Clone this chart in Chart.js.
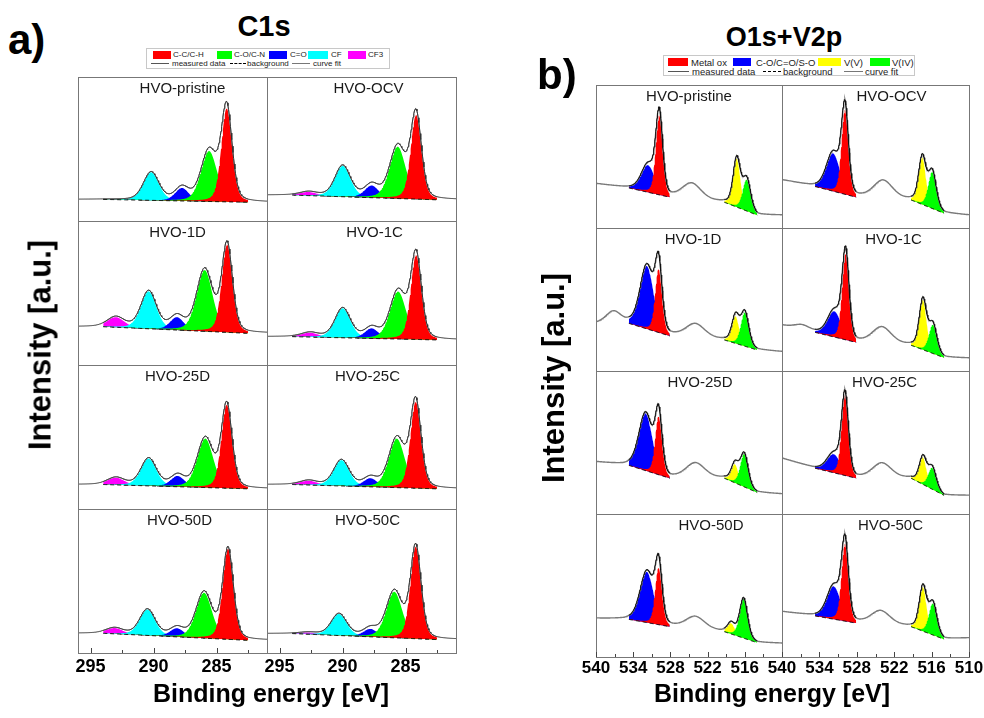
<!DOCTYPE html>
<html>
<head>
<meta charset="utf-8">
<script src="https://cdn.jsdelivr.net/npm/chart.js@4.4.1/dist/chart.umd.min.js"></script>
<style>
  body { margin: 0; background: #fff; }
  #fig { position: relative; width: 984px; height: 718px; overflow: hidden;
         font-family: 'Liberation Sans', Arial, sans-serif; color: #000; }
  #fig canvas { position: absolute; }
  .txt { position: absolute; white-space: nowrap; line-height: 1; }
  .bold { font-weight: bold; }
  .legend { position: absolute; border: 1px solid #c8c8c8; background: #fff; box-sizing: border-box; }
  .legend span { position: absolute; white-space: nowrap; line-height: 1; }
</style>
</head>
<body>
<div id="fig"></div>
<script>
// ---- sample names (reading order: left column, right column, row by row) ----
const samples = ['HVO-pristine', 'HVO-OCV', 'HVO-1D', 'HVO-1C', 'HVO-25D', 'HVO-25C', 'HVO-50D', 'HVO-50C'];

// ---- C1s fit: components listed from high to low binding energy ----
const c1sNames = ['CF3', 'CF', 'C=O', 'C-O/C-N', 'C-C/C-H'];
const c1sColors = ['#ff00ff', '#00ffff', '#0000ff', '#00ff00', '#ff0000'];
const c1sFwhm = [1.6, 1.45, 1.3, 1.5, 1.0];
const c1sCenters = [
  [292.8, 290.2, 287.75, 285.6, 284.2],
  [292.7, 290.0, 287.7, 285.63, 284.17],
  [293.0, 290.4, 288.15, 285.95, 284.17],
  [292.6, 290.0, 287.7, 285.6, 284.17],
  [293.0, 290.4, 288.1, 285.9, 284.2],
  [292.7, 290.1, 287.8, 285.7, 284.2],
  [293.1, 290.5, 288.15, 286.0, 284.1],
  [292.7, 290.3, 287.8, 285.9, 284.2]
];
const c1sHeights = [
  [0.0, 0.195, 0.09, 0.35, 0.65],
  [0.025, 0.215, 0.085, 0.36, 0.585],
  [0.07, 0.26, 0.09, 0.425, 0.61],
  [0.03, 0.205, 0.07, 0.33, 0.585],
  [0.05, 0.19, 0.075, 0.34, 0.58],
  [0.03, 0.18, 0.06, 0.34, 0.6],
  [0.04, 0.18, 0.06, 0.315, 0.63],
  [0.012, 0.15, 0.055, 0.32, 0.64]
];
const c1sBgLeft = [0.15, 0.18, 0.266, 0.197, 0.17, 0.17, 0.137, 0.135];
const c1sBgRight = [0.13, 0.147, 0.22, 0.174, 0.14, 0.14, 0.088, 0.093];
const c1sFit = [294.0, 282.5];
const c1sRange = [296, 281];
const c1sTicks = [295, 290, 285];
const c1sMinor = [292.5, 287.5, 282.5];

// ---- O1s + V2p fit ----
const o1sNames = ['C-O/C=O/S-O', 'Metal ox', 'V(V)', 'V(IV)'];
const o1sColors = ['#0000ff', '#ff0000', '#ffff00', '#00ff00'];
const o1sFwhm = [2.6, 1.3, 1.4, 1.5];
const o1sWindowOf = [0, 0, 1, 1];
const o1sWindows = [[534.7, 528.1], [519.3, 514.0]];
const o1sCenters = [
  [531.6, 529.8, 517.3, 515.7],
  [531.8, 529.9, 517.5, 515.9],
  [531.8, 529.9, 517.5, 516.0],
  [531.6, 529.8, 517.4, 515.8],
  [532.0, 529.9, 517.6, 516.1],
  [531.7, 529.9, 517.4, 515.9],
  [531.8, 529.9, 518.2, 516.2],
  [531.7, 529.9, 517.4, 515.8]
];
const o1sHeights = [
  [0.19, 0.555, 0.34, 0.22],
  [0.265, 0.59, 0.33, 0.255],
  [0.44, 0.445, 0.19, 0.235],
  [0.18, 0.6, 0.35, 0.2],
  [0.40, 0.41, 0.13, 0.23],
  [0.13, 0.56, 0.19, 0.15],
  [0.355, 0.4, 0.075, 0.28],
  [0.23, 0.54, 0.31, 0.22]
];
// background knots of the measured spectra
const o1sBaseE = [540, 534.7, 528.1, 519.3, 514.0, 510];
const o1sBase = [
  [0.31, 0.28, 0.215, 0.18, 0.09, 0.09],
  [0.336, 0.29, 0.215, 0.196, 0.103, 0.09],
  [0.333, 0.333, 0.245, 0.217, 0.147, 0.135],
  [0.32, 0.27, 0.2, 0.18, 0.093, 0.09],
  [0.364, 0.34, 0.25, 0.25, 0.15, 0.14],
  [0.39, 0.32, 0.25, 0.25, 0.13, 0.13],
  [0.27, 0.263, 0.212, 0.177, 0.1, 0.096],
  [0.317, 0.287, 0.237, 0.212, 0.124, 0.133]
];
// unfitted bands in the measured spectra: [centre, height, fwhm]
const o1sSatellite = [
  [524.6, 0.11, 3.6], [523.8, 0.125, 3.6], [524.0, 0.095, 3.6], [524.0, 0.115, 3.6],
  [524.0, 0.105, 3.6], [524.0, 0.105, 3.6], [524.0, 0.085, 3.6], [524.2, 0.095, 3.6]
];
const o1sShoulder = [
  [537.0, 0.0, 2.5], [537.0, 0.0, 2.5], [537.2, 0.08, 2.8], [536.8, 0.03, 2.8],
  [537.0, 0.0, 2.5], [537.0, 0.0, 2.5], [537.0, 0.0, 2.5], [537.0, 0.0, 2.5]
];
const o1sRange = [540, 510];
const o1sTicks = [540, 534, 528, 522, 516, 510];
const o1sMinor = [537, 531, 525, 519, 513];

// horizontal nudges of the sample names inside each cell
const c1sTitleShift = [10, 7, 5, 13, 5, 6, 7, 6];
const o1sTitleShift = [0, 16, 4, 18, 11, 9, 22, 15];

const FONT = "'Liberation Sans', Arial, sans-serif";
Chart.defaults.animation = false;
Chart.defaults.font.family = FONT;
Chart.defaults.plugins.legend.display = false;
Chart.defaults.plugins.tooltip.enabled = false;
Chart.defaults.elements.point.radius = 0;
Chart.defaults.elements.line.tension = 0;

// Gaussian-Lorentzian line shape (30 % Lorentzian)
function gl(e, c, h, w) {
  const t = (e - c) / w;
  return h * (0.7 * Math.exp(-4 * Math.LN2 * t * t) + 0.3 / (1 + 4 * t * t));
}
function knot(e, xs, ys) {
  for (let i = 0; i < xs.length - 1; i++) {
    if (e <= xs[i] && e >= xs[i + 1]) {
      const f = (xs[i] - e) / (xs[i] - xs[i + 1]);
      return ys[i] + f * (ys[i + 1] - ys[i]);
    }
  }
  return e > xs[0] ? ys[0] : ys[ys.length - 1];
}
function energies(from, to, step) {
  const out = [];
  for (let e = from; e >= to - 1e-9; e -= step) out.push(+e.toFixed(3));
  return out;
}

function c1sCell(s, yId, ds) {
  const bgE = [c1sRange[0], c1sFit[0], c1sFit[1], c1sRange[1]];
  const bgV = [c1sBgLeft[s], c1sBgLeft[s], c1sBgRight[s], c1sBgRight[s]];
  const bg = e => knot(e, bgE, bgV);
  const peak = (k, e) => gl(e, c1sCenters[s][k], c1sHeights[s][k], c1sFwhm[k]);
  const fit = e => bg(e) + c1sNames.reduce((a, _, k) => a + peak(k, e), 0);
  const win = energies(c1sFit[0], c1sFit[1], 0.05);
  const all = energies(c1sRange[0], c1sRange[1], 0.05);
  const bgIdx = ds.length;
  ds.push({ yAxisID: yId, data: win.map(e => ({ x: e, y: bg(e) })), borderColor: '#000',
            borderWidth: 1, borderDash: [4, 3], fill: false, order: 1 });
  c1sNames.forEach((n, k) => ds.push({
    yAxisID: yId, label: n, data: win.map(e => ({ x: e, y: bg(e) + peak(k, e) })),
    borderColor: 'transparent', backgroundColor: c1sColors[k], fill: { target: bgIdx }, order: 10 - k
  }));
  ds.push({ yAxisID: yId, data: win.map(e => ({ x: e, y: fit(e) })), borderColor: '#8c8c8c', borderWidth: 1, fill: false, order: 3 });
  ds.push({ yAxisID: yId, data: all.map(e => ({ x: e, y: fit(e) })), borderColor: '#333', borderWidth: 1, fill: false, order: 2 });
}

function o1sCell(s, yId, ds) {
  const bg = e => knot(e, o1sBaseE, o1sBase[s]);
  const peak = (k, e) => gl(e, o1sCenters[s][k], o1sHeights[s][k], o1sFwhm[k]);
  const band = (b, e) => gl(e, b[0], b[1], b[2]);
  const fit = e => bg(e) + o1sNames.reduce((a, _, k) => a + peak(k, e), 0);
  const measured = e => fit(e) + band(o1sSatellite[s], e) + band(o1sShoulder[s], e);
  const all = energies(o1sRange[0], o1sRange[1], 0.1);
  o1sWindows.forEach((w, wi) => {
    const win = energies(w[0], w[1], 0.05);
    const bgIdx = ds.length;
    ds.push({ yAxisID: yId, data: win.map(e => ({ x: e, y: bg(e) })), borderColor: '#000',
              borderWidth: 1, borderDash: [4, 3], fill: false, order: 1 });
    o1sNames.forEach((n, k) => {
      if (o1sWindowOf[k] !== wi) return;
      ds.push({ yAxisID: yId, label: n, data: win.map(e => ({ x: e, y: bg(e) + peak(k, e) })),
                borderColor: 'transparent', backgroundColor: o1sColors[k], fill: { target: bgIdx }, order: 10 - k });
    });
    ds.push({ yAxisID: yId, data: win.map(e => ({ x: e, y: measured(e) })), borderColor: '#111', borderWidth: 1, fill: false, order: 2 });
  });
  ds.push({ yAxisID: yId, data: all.map(e => ({ x: e, y: measured(e) })), borderColor: '#7a7a7a', borderWidth: 1.4, fill: false, order: 3 });
}

// frames, inward ticks and sample names on every cell of a column
const cellDecor = {
  id: 'cellDecor',
  afterDraw(chart, args, opts) {
    const { ctx, chartArea: a } = chart;
    const xs = chart.scales.x;
    ctx.save();
    ctx.strokeStyle = '#777';
    ctx.lineWidth = 1;
    for (let r = 0; r < 4; r++) {
      const sc = chart.scales['y' + r];
      ctx.strokeRect(Math.round(a.left) + 0.5, Math.round(sc.top) + 0.5,
                     Math.round(a.right - a.left), Math.round(sc.bottom - sc.top));
    }
    ctx.strokeStyle = '#444';
    const tick = (v, len) => {
      const px = Math.round(xs.getPixelForValue(v)) + 0.5;
      ctx.beginPath(); ctx.moveTo(px, a.bottom); ctx.lineTo(px, a.bottom - len); ctx.stroke();
    };
    opts.major.forEach(v => tick(v, 5));
    opts.minor.forEach(v => tick(v, 3));
    ctx.fillStyle = '#1a1a1a';
    ctx.font = '15px ' + FONT;
    ctx.textAlign = 'center';
    ctx.textBaseline = 'middle';
    for (let r = 0; r < 4; r++) {
      const s = r * 2 + opts.col;
      const sc = chart.scales['y' + r];
      ctx.fillText(samples[s], (a.left + a.right) / 2 + opts.shift[s], sc.top + 12);
    }
    ctx.restore();
  }
};

const fig = document.getElementById('fig');

function column(box, col, panel) {
  const pad = 25, axisH = 40;
  const cv = document.createElement('canvas');
  cv.width = box.right - box.left + 2 * pad;
  cv.height = box.bottom - box.top + 2 + axisH;
  cv.style.left = (box.left - pad) + 'px';
  cv.style.top = (box.top - 2) + 'px';
  fig.appendChild(cv);

  const ds = [];
  for (let r = 0; r < 4; r++) panel.cell(r * 2 + col, 'y' + r, ds);

  const scales = {
    x: {
      type: 'linear', reverse: true, min: panel.range[1], max: panel.range[0],
      grid: { display: false, drawTicks: false }, border: { display: false },
      ticks: {
        stepSize: panel.step, padding: panel.tickPad, color: '#000', autoSkip: false, maxRotation: 0,
        font: { size: panel.tickSize, weight: 'bold' },
        callback: v => (panel.hide(col, v) ? '' : String(Math.round(v)))
      },
      afterBuildTicks: sc => {
        sc.ticks = panel.ticks.map(v => ({ value: v }));
      },
      afterFit: sc => { sc.height = axisH; sc.paddingLeft = 0; sc.paddingRight = 0; }
    }
  };
  // stacked rows: the scale added last ends up on top, so add the bottom row first
  for (let r = 3; r >= 0; r--) {
    scales['y' + r] = {
      type: 'linear', min: 0, max: 1, position: 'left', stack: 'rows', stackWeight: 1,
      grid: { display: false }, border: { display: false }, ticks: { display: false },
      afterFit: sc => { sc.width = 0; }
    };
  }

  new Chart(cv, {
    type: 'line',
    data: { datasets: ds },
    options: {
      responsive: false, parsing: false, normalized: true,
      layout: { padding: { left: pad, right: pad, top: 2, bottom: 0 } },
      scales,
      plugins: { cellDecor: { col, shift: panel.shift, major: panel.ticks, minor: panel.minor } }
    },
    plugins: [cellDecor]
  });
}

const c1sPanel = {
  cell: c1sCell, range: c1sRange, step: 5, tickSize: 18, tickPad: 3, ticks: c1sTicks, minor: c1sMinor,
  shift: c1sTitleShift, hide: () => false
};
const o1sPanel = {
  cell: o1sCell, range: o1sRange, step: 6, tickSize: 17, tickPad: 1, ticks: o1sTicks, minor: o1sMinor,
  shift: o1sTitleShift, hide: (col, v) => col === 0 && Math.round(v) === 510
};

column({ left: 78, right: 267, top: 77, bottom: 653 }, 0, c1sPanel);
column({ left: 267, right: 456, top: 77, bottom: 653 }, 1, c1sPanel);
column({ left: 596, right: 782, top: 85, bottom: 657 }, 0, o1sPanel);
column({ left: 782, right: 969, top: 85, bottom: 657 }, 1, o1sPanel);

// ---- text around the panels ----
function text(str, x, baseline, size, opts = {}) {
  const d = document.createElement('div');
  d.className = 'txt' + (opts.bold ? ' bold' : '');
  d.textContent = str;
  d.style.fontSize = size + 'px';
  d.style.top = (baseline - 0.8465 * size) + 'px';
  d.style.left = x + 'px';
  if (opts.center) d.style.transform = 'translateX(-50%)';
  fig.appendChild(d);
  return d;
}
function vtext(str, cx, cy, size) {
  const d = document.createElement('div');
  d.className = 'txt bold';
  d.textContent = str;
  d.style.fontSize = size + 'px';
  d.style.left = cx + 'px';
  d.style.top = cy + 'px';
  d.style.transform = 'translate(-50%, -50%) rotate(-90deg)';
  fig.appendChild(d);
}

text('a)', 8, 55, 42, { bold: true });
text('C1s', 264, 37, 29, { bold: true, center: true });
text('b)', 537, 90, 42, { bold: true });
text('O1s+V2p', 784, 47, 27, { bold: true, center: true });
vtext('Intensity [a.u.]', 40, 345, 31);
vtext('Intensity [a.u.]', 553, 378, 31);
text('Binding energy [eV]', 271, 702, 25, { bold: true, center: true });
text('Binding energy [eV]', 772, 702, 25, { bold: true, center: true });

// ---- legends ----
function legend(box, size, items) {
  const L = document.createElement('div');
  L.className = 'legend';
  Object.assign(L.style, { left: box.x + 'px', top: box.y + 'px', width: box.w + 'px', height: box.h + 'px' });
  items.forEach(it => {
    const sp = document.createElement('span');
    sp.style.left = it.x + 'px';
    if (it.swatch) {
      Object.assign(sp.style, { top: it.y + 'px', width: it.w + 'px', height: it.h + 'px', background: it.swatch });
    } else if (it.line) {
      Object.assign(sp.style, { top: it.y + 'px', width: it.w + 'px', height: '0px',
        borderTop: '1px ' + it.line + ' ' + (it.color || '#333') });
    } else {
      sp.textContent = it.t;
      Object.assign(sp.style, { top: it.y + 'px', fontSize: size + 'px', color: '#222' });
    }
    L.appendChild(sp);
  });
  fig.appendChild(L);
}

legend({ x: 146, y: 48, w: 244, h: 21 }, 8, [
  { x: 6, y: 2, w: 18, h: 8, swatch: c1sColors[4] }, { x: 26, y: 2, t: c1sNames[4] },
  { x: 70, y: 2, w: 15, h: 8, swatch: c1sColors[3] }, { x: 87, y: 2, t: c1sNames[3] },
  { x: 122, y: 2, w: 18, h: 8, swatch: c1sColors[2] }, { x: 143, y: 2, t: c1sNames[2] },
  { x: 161, y: 2, w: 20, h: 8, swatch: c1sColors[1] }, { x: 184, y: 2, t: c1sNames[1] },
  { x: 201, y: 2, w: 18, h: 8, swatch: c1sColors[0] }, { x: 221, y: 2, t: c1sNames[0] },
  { x: 4, y: 14, w: 18, line: 'solid', color: '#555' }, { x: 25, y: 11, t: 'measured data' },
  { x: 83, y: 14, w: 16, line: 'dashed', color: '#000' }, { x: 100, y: 11, t: 'background' },
  { x: 145, y: 14, w: 18, line: 'solid', color: '#777' }, { x: 166, y: 11, t: 'curve fit' }
]);

legend({ x: 663, y: 55, w: 252, h: 21 }, 9.5, [
  { x: 4, y: 2, w: 20, h: 8, swatch: o1sColors[1] }, { x: 27, y: 1.5, t: o1sNames[1] },
  { x: 69, y: 2, w: 18, h: 8, swatch: o1sColors[0] }, { x: 92, y: 1.5, t: o1sNames[0] },
  { x: 154, y: 2, w: 23, h: 8, swatch: o1sColors[2] }, { x: 180, y: 1.5, t: o1sNames[2] },
  { x: 206, y: 2, w: 20, h: 8, swatch: o1sColors[3] }, { x: 228, y: 1.5, t: o1sNames[3] },
  { x: 4, y: 15, w: 21, line: 'solid', color: '#555' }, { x: 28, y: 11, t: 'measured data' },
  { x: 99, y: 15, w: 18, line: 'dashed', color: '#000' }, { x: 119, y: 11, t: 'background' },
  { x: 180, y: 15, w: 19, line: 'solid', color: '#777' }, { x: 201, y: 11, t: 'curve fit' }
]);
</script>
</body>
</html>
